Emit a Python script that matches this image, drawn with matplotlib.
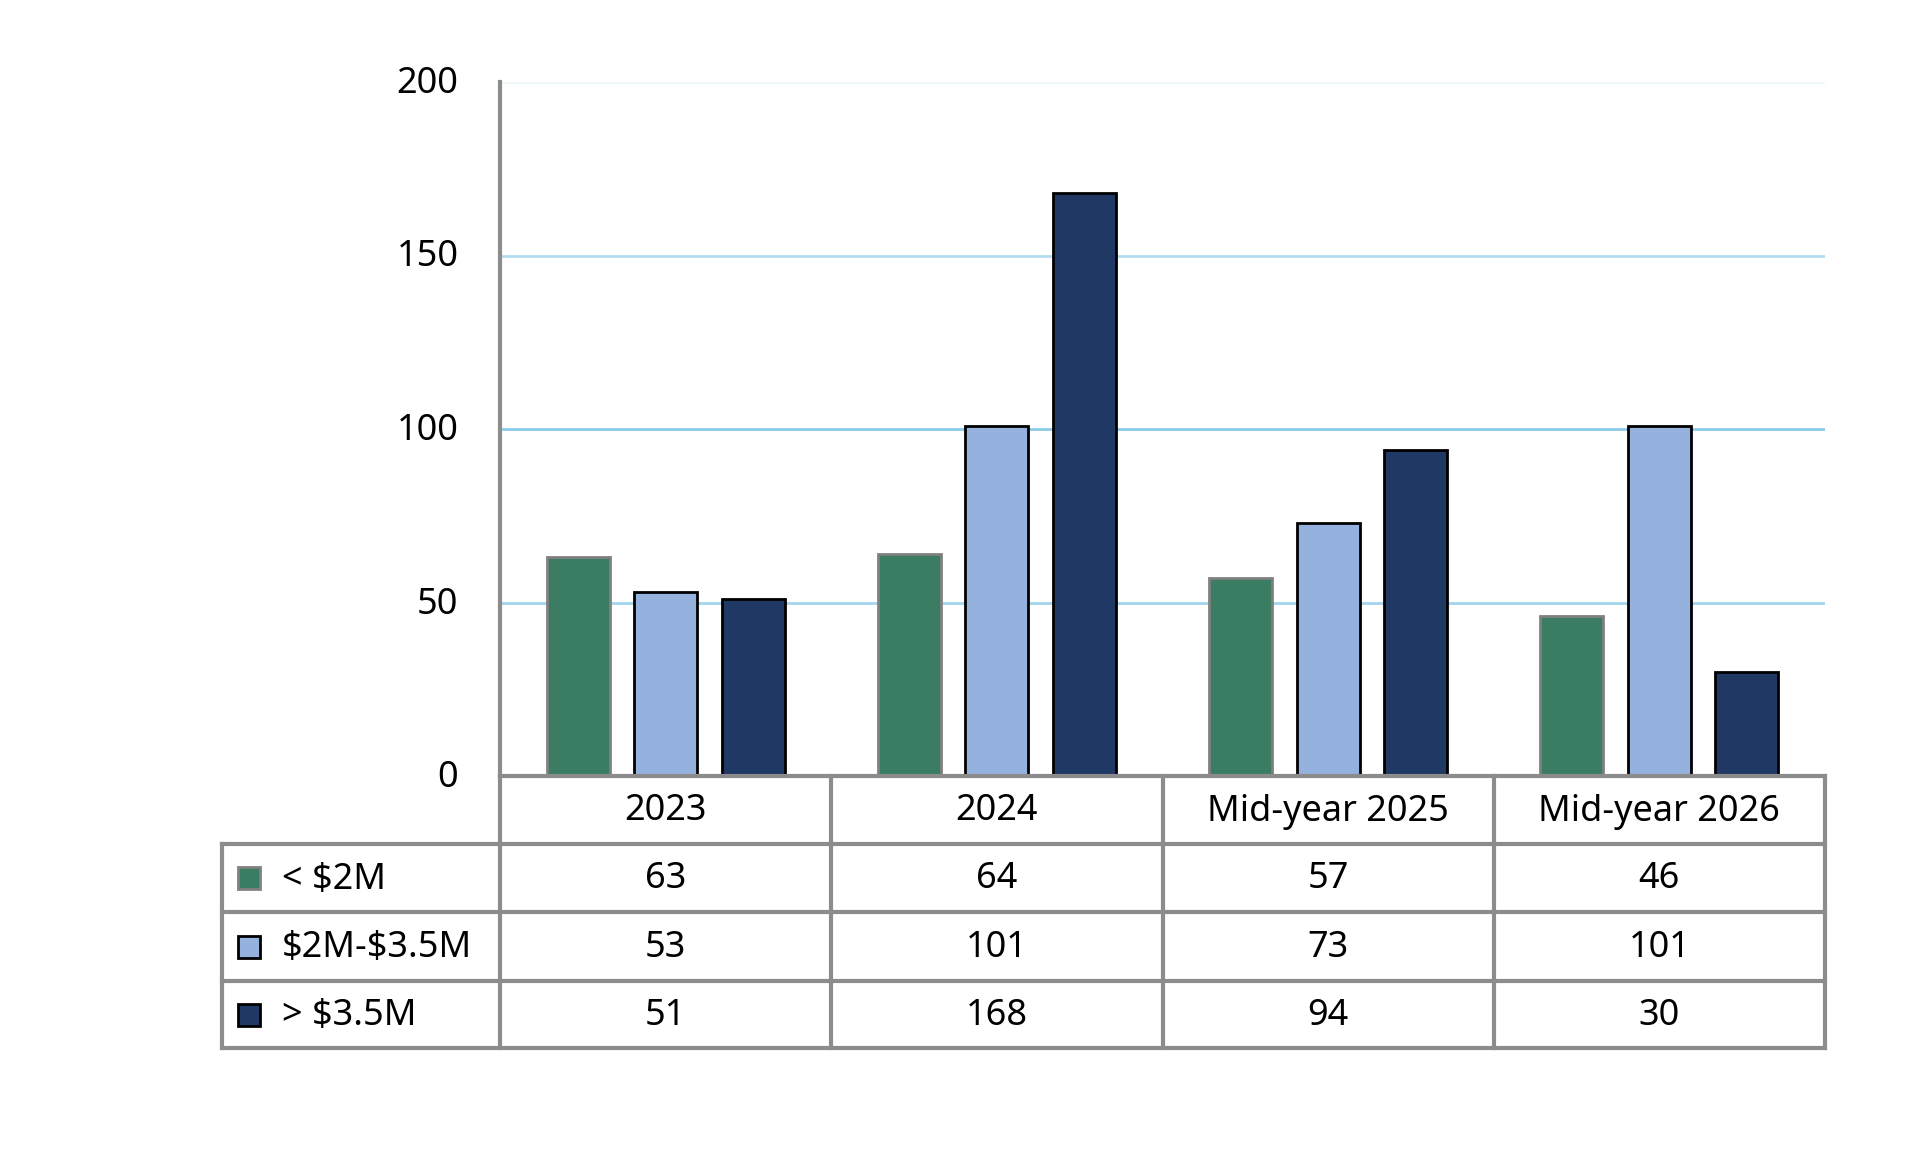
import matplotlib.pyplot as plt
import matplotlib.transforms as mtransforms
import numpy as np
from matplotlib.patches import Rectangle

categories = ["2023", "2024", "Mid-year 2025", "Mid-year 2026"]
series_names = ["< $2M", "$2M-$3.5M", "> $3.5M"]
under_2m = [63, 64, 57, 46]
mid_range = [53, 101, 73, 101]
over_3_5m = [51, 168, 94, 30]
series_values = [under_2m, mid_range, over_3_5m]

colors = ["#3a7d62", "#95b1de", "#203864"]
edges = ["#808080", "#000000", "#000000"]
grid_color = "#8ccbea"
line_color = "#8c8c8c"

W, H = 1920, 1160
# pixel layout
ax_left, ax_right, ax_top, ax_bottom = 500, 1825, 82, 776
row_edges = [776, 844, 912, 981, 1048]
legend_left = 222
fs = 26
text_shift = 3

plt.rcParams["font.family"] = ["Noto Sans", "DejaVu Sans"]
plt.rcParams["text.parse_math"] = False
fig = plt.figure(figsize=(W / 100, H / 100), dpi=100, facecolor="white")

ax = fig.add_axes([ax_left / W, 1 - ax_bottom / H,
                   (ax_right - ax_left) / W, (ax_bottom - ax_top) / H])
n = len(categories)
ax.set_xlim(-0.5, n - 0.5)
ax.set_ylim(0, 200)

x = np.arange(n)
offset = 0.264
width = 0.19
for i, vals in enumerate(series_values):
    ax.bar(x + (i - 1) * offset, vals, width, color=colors[i],
           edgecolor=edges[i], linewidth=2, zorder=3)

yticks = [0, 50, 100, 150, 200]
grid_alpha = {50: 0.8, 100: 1.0, 150: 0.65, 200: 0.15}
for t in yticks[1:]:
    ax.axhline(t, color=grid_color, linewidth=2, alpha=grid_alpha[t], zorder=1)

ax.set_yticks(yticks)
ax.set_yticklabels([str(t) for t in yticks], fontsize=fs)
ax.tick_params(axis="y", length=0, pad=30)
nudge = mtransforms.ScaledTranslation(0, 2.5 / 100, fig.dpi_scale_trans)
for lbl in ax.get_yticklabels():
    lbl.set_transform(lbl.get_transform() + nudge)
ax.set_xticks([])
for s in ["top", "right", "bottom"]:
    ax.spines[s].set_visible(False)
ax.spines["left"].set_color(line_color)
ax.spines["left"].set_linewidth(3)

# table overlay in pixel coordinates
ov = fig.add_axes([0, 0, 1, 1], facecolor="none")
ov.set_xlim(0, W)
ov.set_ylim(H, 0)
ov.axis("off")

col_w = (ax_right - ax_left) / n
col_edges = [ax_left + k * col_w for k in range(n + 1)]
lw = 3
# horizontal lines
ov.plot([ax_left, ax_right], [row_edges[0]] * 2, color=line_color, lw=lw)
for y in row_edges[1:]:
    ov.plot([legend_left, ax_right], [y, y], color=line_color, lw=lw)
# vertical lines
for cx in col_edges:
    ov.plot([cx, cx], [row_edges[0], row_edges[-1]], color=line_color, lw=lw)
ov.plot([legend_left, legend_left], [row_edges[1], row_edges[-1]],
        color=line_color, lw=lw)

# header
for k, cat in enumerate(categories):
    cx = (col_edges[k] + col_edges[k + 1]) / 2
    ov.text(cx, (row_edges[0] + row_edges[1]) / 2 - text_shift, cat,
            ha="center", va="center_baseline", fontsize=fs)

# rows
sq = 22
for i, name in enumerate(series_names):
    cy = (row_edges[i + 1] + row_edges[i + 2]) / 2
    ov.add_patch(Rectangle((238, cy - sq / 2), sq, sq, facecolor=colors[i],
                           edgecolor=edges[i], lw=2))
    ov.text(282, cy - text_shift, name, ha="left", va="center_baseline",
            fontsize=fs)
    for k, v in enumerate(series_values[i]):
        cx = (col_edges[k] + col_edges[k + 1]) / 2
        ov.text(cx, cy - text_shift, str(v), ha="center",
                va="center_baseline", fontsize=fs)

fig.savefig("out.png", dpi=100, facecolor="white")
